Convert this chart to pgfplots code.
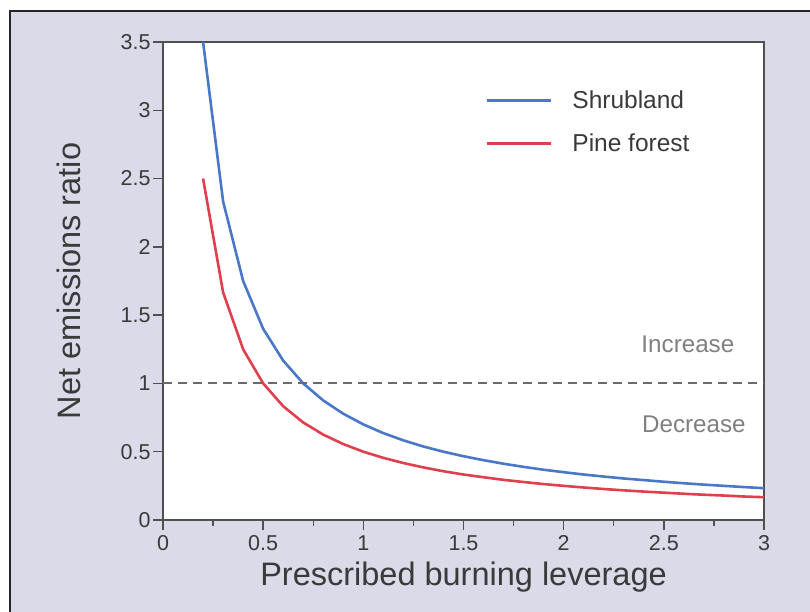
\documentclass[border=0pt]{standalone}
\usepackage{fontspec}
\setmainfont{Liberation Sans}
\usepackage{pgfplots}
\pgfplotsset{compat=1.18}
\definecolor{bgc}{HTML}{DADAE8}
\definecolor{axc}{HTML}{505050}
\definecolor{txc}{HTML}{3A3A3A}
\definecolor{shrub}{HTML}{4A78C8}
\definecolor{pine}{HTML}{E0404E}
\definecolor{annc}{HTML}{808080}
\newcommand{\tickfont}{\fontsize{21.5}{21.5}\selectfont}
\begin{document}
\begin{tikzpicture}[x=1pt,y=1pt]
\useasboundingbox (0,0) rectangle (810,612);
\fill[white] (0,0) rectangle (810,612);
\filldraw[fill=bgc,draw=black!85,line width=1.2pt] (10,601) rectangle (830,-20);
\begin{axis}[
  at={(163pt,92pt)}, anchor=south west,
  scale only axis, width=601pt, height=478pt,
  xmin=0, xmax=3, ymin=0, ymax=3.5,
  axis background/.style={fill=white},
  axis line style={axc, line width=1.4pt},
  xtick={0,0.5,...,3}, ytick={0,0.5,...,3.5},
  minor xtick={0.25,0.75,...,2.75},
  xtick pos=bottom, ytick pos=left,
  tick align=outside,
  major tick length=10pt, minor tick length=6pt,
  tick style={axc, line width=1.4pt},
  /pgf/number format/assume math mode=true,
  xticklabel={\tickfont\pgfmathprintnumber{\tick}},
  yticklabel={\tickfont\pgfmathprintnumber{\tick}},
  xticklabel style={text=txc, yshift=-2pt},
  yticklabel style={text=txc, xshift=1pt},
  xlabel={Prescribed burning leverage},
  ylabel={Net emissions ratio},
  xlabel style={font=\fontsize{32.5}{32.5}\selectfont, text=txc,
    at={(axis description cs:0.5,0)}, anchor=base, yshift=-66pt},
  ylabel style={font=\fontsize{32.5}{32.5}\selectfont, text=txc,
    at={(axis description cs:0,0.5)}, anchor=base, yshift=82pt},
  legend style={at={(0.532,0.907)}, anchor=north west, draw=none, fill=none,
    font=\fontsize{24.5}{28}\selectfont, text=txc, row sep=20pt},
  legend cell align=left,
  legend image code/.code={\draw[#1, line width=2.5pt] (0pt,0pt) -- (64pt,0pt);},
  clip=true,
]
\addplot[shrub, line width=2.6pt] coordinates {
(0.2,3.5) (0.3,2.333) (0.4,1.75) (0.5,1.4) (0.6,1.167) (0.7,1.0) (0.8,0.875)
(0.9,0.778) (1.0,0.7) (1.1,0.636) (1.2,0.583) (1.3,0.538) (1.4,0.5) (1.5,0.467)
(1.6,0.438) (1.7,0.412) (1.8,0.389) (1.9,0.368) (2.0,0.35) (2.1,0.333) (2.2,0.318)
(2.3,0.304) (2.4,0.292) (2.5,0.28) (2.6,0.269) (2.7,0.259) (2.8,0.25) (2.9,0.241)
(3.0,0.233)};
\addlegendentry{\hspace{18pt}Shrubland}
\addplot[pine, line width=2.6pt] coordinates {
(0.2,2.5) (0.3,1.667) (0.4,1.25) (0.5,1.0) (0.6,0.833) (0.7,0.714) (0.8,0.625)
(0.9,0.556) (1.0,0.5) (1.1,0.455) (1.2,0.417) (1.3,0.385) (1.4,0.357) (1.5,0.333)
(1.6,0.313) (1.7,0.294) (1.8,0.278) (1.9,0.263) (2.0,0.25) (2.1,0.238) (2.2,0.227)
(2.3,0.217) (2.4,0.208) (2.5,0.2) (2.6,0.192) (2.7,0.185) (2.8,0.179) (2.9,0.172)
(3.0,0.167)};
\addlegendentry{\hspace{18pt}Pine forest}
\addplot[color=black!58, line width=2pt, dash pattern=on 9pt off 6pt, forget plot] coordinates {(0,1) (3,1)};
\node[font=\fontsize{24.2}{24}\selectfont, text=annc] at (axis cs:2.62,1.29) {Increase};
\node[font=\fontsize{24.2}{24}\selectfont, text=annc] at (axis cs:2.65,0.70) {Decrease};
\end{axis}
\end{tikzpicture}
\end{document}
